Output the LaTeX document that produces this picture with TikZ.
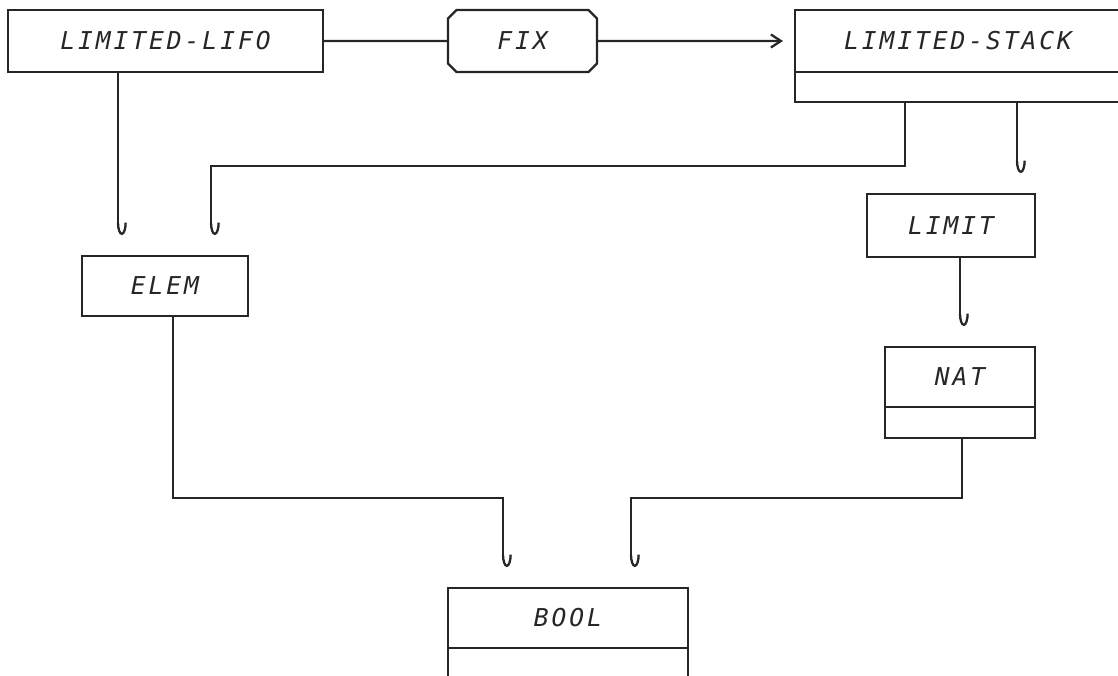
\documentclass[tikz,border=0pt]{standalone}
\usepackage{fontspec}
\usepackage{tikz}
\usetikzlibrary{arrows.meta,positioning,calc,shapes.misc}
\newfontfamily\plotfont{DejaVu Sans Mono}[LetterSpace=12]

\begin{document}
\begin{tikzpicture}[line width=1.3pt,color=black!85,
  b/.style={rectangle,draw,inner sep=0pt,outer sep=0pt,font=\plotfont\itshape\fontsize{14}{16}\selectfont},
  hk/.style={-{Hooks[left,length=7pt,width=10pt]},shorten >=0.42cm}]
\clip (0,0) rectangle (22.36,-13.52);
\node[b,minimum width=6.3cm,minimum height=1.24cm] (lifo) at (3.31,-0.82) {LIMITED-LIFO};
\node[b,chamfered rectangle,chamfered rectangle xsep=2pt,minimum width=2.98cm,minimum height=1.24cm] (fix) at (10.45,-0.82) {FIX};
\node[b,minimum width=6.52cm,minimum height=1.24cm] (stack) at (19.16,-0.82) {LIMITED-STACK};
\node[b,minimum width=6.52cm,minimum height=0.6cm,below=0pt of stack] (stackx) {};
\node[b,minimum width=3.32cm,minimum height=1.2cm] (elem) at (3.30,-5.72) {ELEM};
\node[b,minimum width=3.36cm,minimum height=1.26cm] (limit) at (19.02,-4.51) {LIMIT};
\node[b,minimum width=3.0cm,minimum height=1.2cm] (nat) at (19.20,-7.54) {NAT};
\node[b,minimum width=3.0cm,minimum height=0.62cm,below=0pt of nat] (natx) {};
\node[b,minimum width=4.8cm,minimum height=1.2cm] (bool) at (11.36,-12.36) {BOOL};
\node[b,minimum width=4.8cm,minimum height=0.6cm,below=0pt of bool] (boolx) {};
\coordinate (k0) at (2.36,-3);
\coordinate (k1) at (18.10,-3.32);
\coordinate (k2) at (4.22,-3.32);
\coordinate (k7) at (20.34,-3);
\coordinate (k3) at (3.46,-9.96);
\coordinate (k4) at (10.06,-9.96);
\coordinate (k5) at (19.24,-9.96);
\coordinate (k6) at (12.62,-9.96);
\draw (lifo) -- (fix);
\draw[-{Straight Barb[length=0.2cm,width=0.26cm]},shorten >=0.24cm] (fix) -- (stack);
\draw[hk] (lifo.south -| k0) -- (elem.north -| k0);
\draw[hk] (stackx.south -| k1) -- (k1) -- (k2) -- (elem.north -| k2);
\draw[hk] (stackx.south -| k7) -- (limit.north -| k7);
\draw[hk] (limit.south -| nat.north) -- (nat.north);
\draw[hk] (elem.south -| k3) -- (k3) -- (k4) -- (bool.north -| k4);
\draw[hk] (natx.south -| k5) -- (k5) -- (k6) -- (bool.north -| k6);
\end{tikzpicture}
\end{document}
